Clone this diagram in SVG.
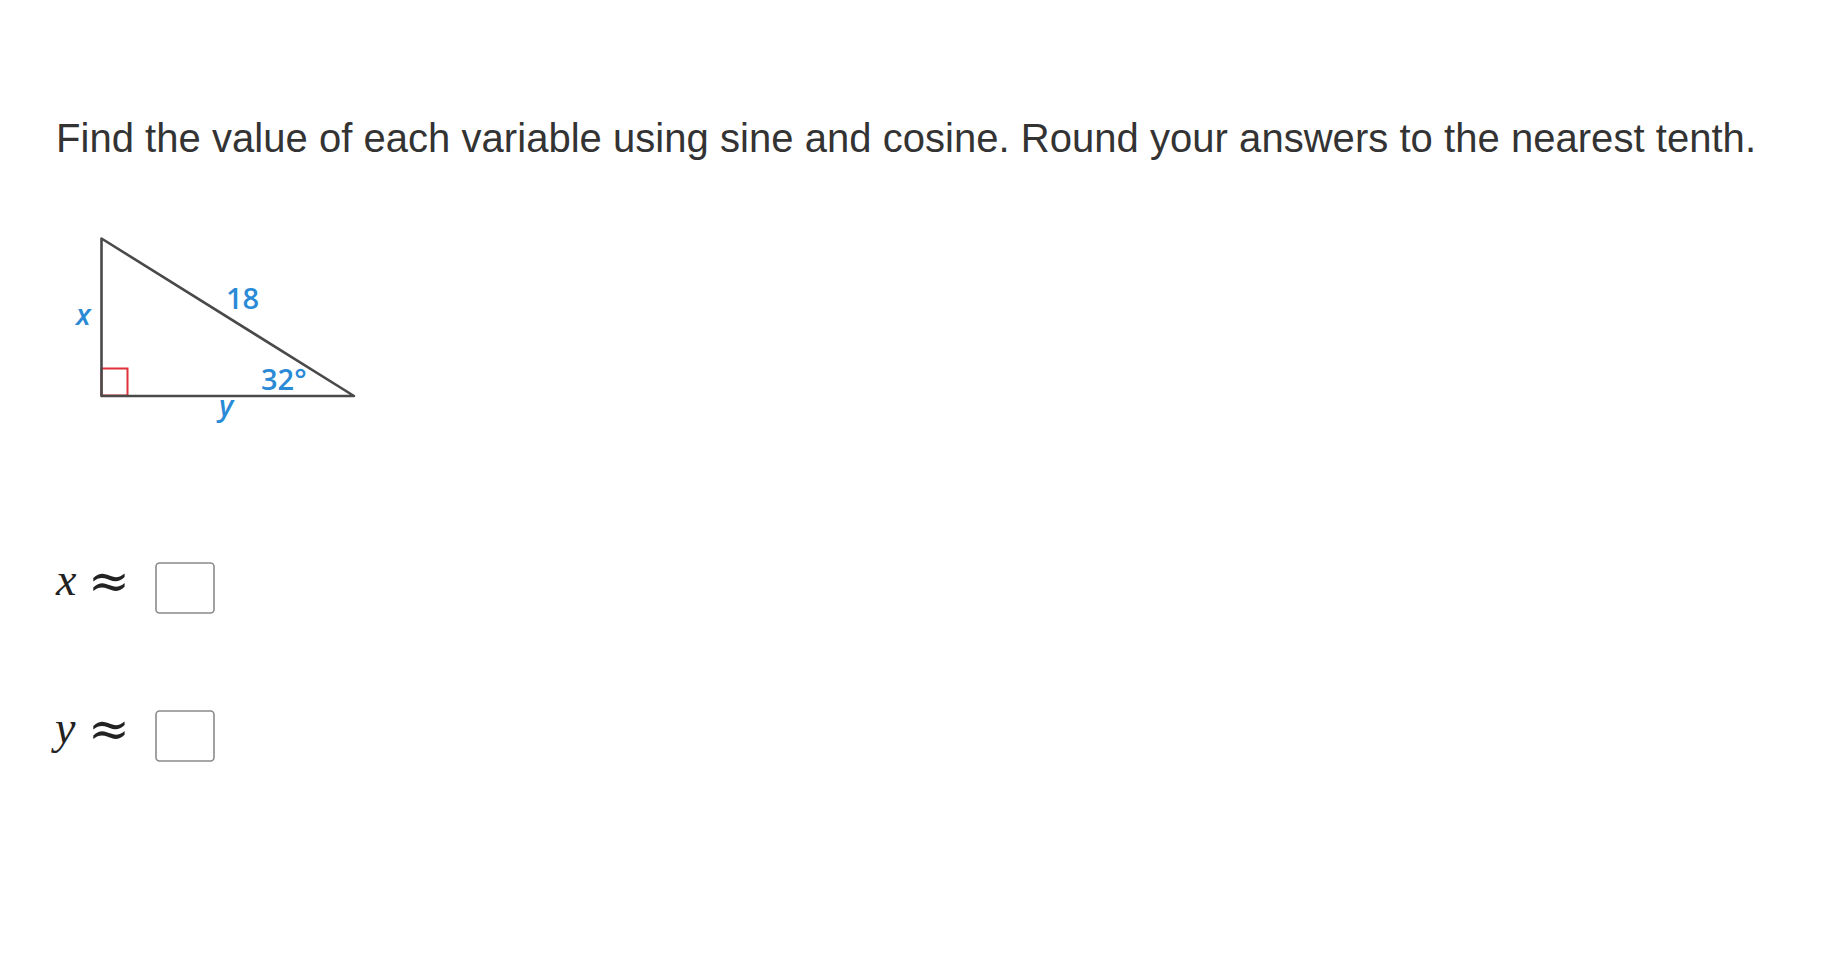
<svg xmlns="http://www.w3.org/2000/svg" width="1830" height="966" viewBox="0 0 1830 966">
<style>
.title{font-family:"Liberation Sans",Arial,sans-serif;font-size:40px;fill:#333}
.lbl{font-family:"Open Sans","Noto Sans",sans-serif;font-size:29px;font-weight:600;fill:#2a8ad6}
.math{font-family:"Liberation Serif","Times New Roman",serif;font-size:46px;fill:#222}
.approx{font-family:"DejaVu Serif","Liberation Serif",serif;font-size:50px;fill:#222}
.box{fill:#fff;stroke:#8a8a8a;stroke-width:1.6}
</style>
<rect width="1830" height="966" fill="#fff"/>
<g id="title"><text class="title" x="56" y="152" textLength="1700" lengthAdjust="spacing">Find the value of each variable using sine and cosine. Round your answers to the nearest tenth.</text></g>
<g id="triangle">
<rect x="101.5" y="368.5" width="26" height="27" fill="none" stroke="#e0323a" stroke-width="2"/>
<polygon points="101.5,238.5 101.5,396 354,396" fill="none" stroke="#4a4a4a" stroke-width="2.6" stroke-linejoin="round"/>
<text class="lbl" x="226" y="309">18</text>
<text class="lbl" x="76" y="325" font-style="italic">x</text>
<text class="lbl" x="261" y="390">32°</text>
<text class="lbl" x="219" y="416" font-style="italic">y</text>
</g>
<g id="answer-x">
<text class="math" x="56" y="595" font-style="italic">x</text>
<text class="approx" x="88" y="598">≈</text>
<rect class="box" x="156" y="563" width="58" height="50" rx="3.5"/>
</g>
<g id="answer-y">
<text class="math" x="55" y="743" font-style="italic">y</text>
<text class="approx" x="88" y="746">≈</text>
<rect class="box" x="156" y="711" width="58" height="50" rx="3.5"/>
</g>
</svg>
